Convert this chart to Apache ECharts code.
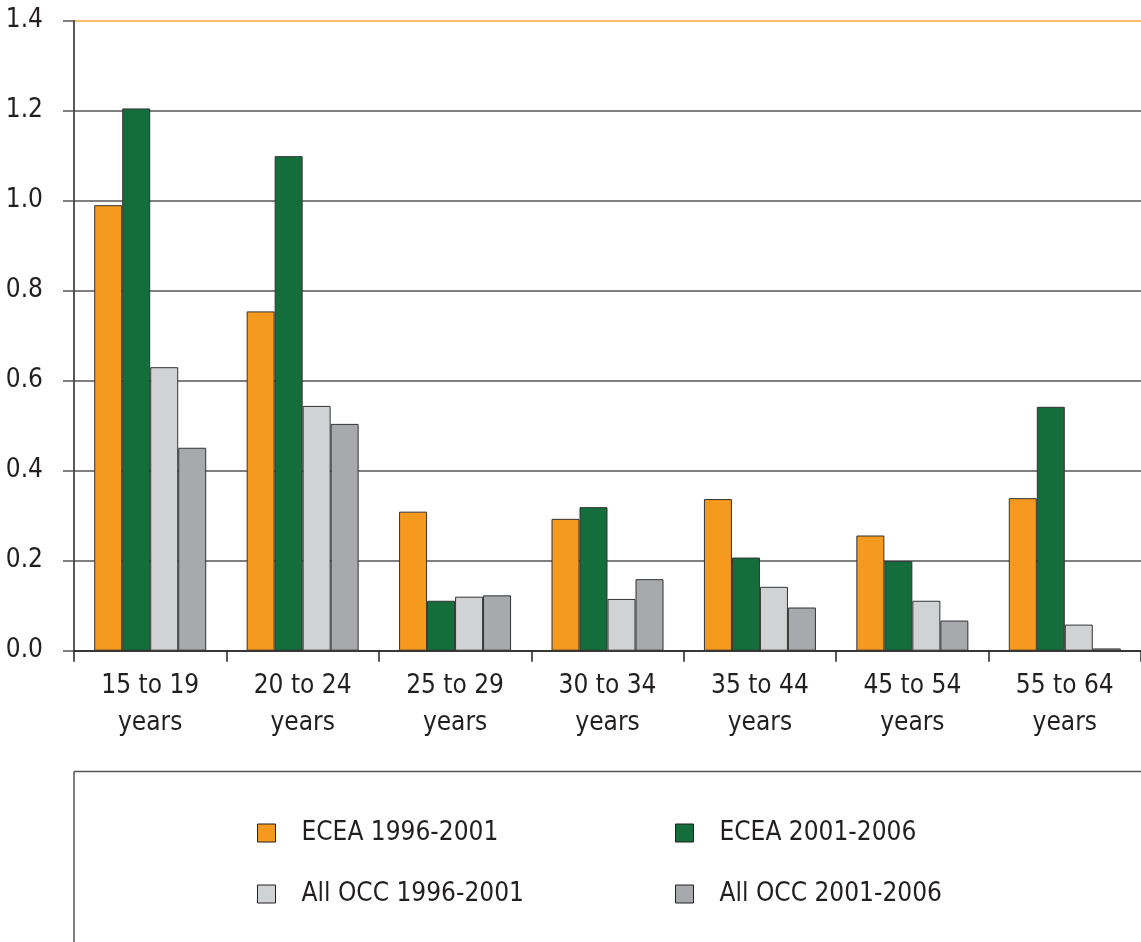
<!DOCTYPE html>
<html>
<head>
<meta charset="utf-8">
<script src="https://cdn.jsdelivr.net/npm/echarts@6/dist/echarts.min.js"></script>
<style>
html,body{margin:0;padding:0;background:#fff;}
#chart{width:1141px;height:942px;}
</style>
</head>
<body>
<div id="chart"></div>
<script>
var categories = ['15 to 19\nyears','20 to 24\nyears','25 to 29\nyears','30 to 34\nyears','35 to 44\nyears','45 to 54\nyears','55 to 64\nyears'];
var seriesNames = ['ECEA 1996-2001','ECEA 2001-2006','All OCC 1996-2001','All OCC 2001-2006'];
var ecea9601 = [0.990, 0.754, 0.309, 0.293, 0.337, 0.256, 0.339];
var ecea0106 = [1.205, 1.099, 0.111, 0.319, 0.207, 0.199, 0.542];
var occ9601  = [0.630, 0.544, 0.120, 0.115, 0.142, 0.111, 0.058];
var occ0106  = [0.451, 0.504, 0.123, 0.159, 0.096, 0.067, 0.005];
var yTicks = [0, 0.2, 0.4, 0.6, 0.8, 1.0, 1.2, 1.4];

var FONT = '"Liberation Sans Narrow","DejaVu Sans Condensed","Roboto Condensed",sans-serif';
var colors = ['#f6991f','#136e3c','#d1d2d4','#a7a9ac'];
var values = [ecea9601, ecea0106, occ9601, occ0106];

var chart = echarts.init(document.getElementById('chart'), null, {renderer:'canvas'});

function mkLegend(name, left, top){
  return {
    data:[name], left:left, top:top, orient:'horizontal', padding:0,
    itemWidth:18, itemHeight:18, icon:'rect',
    selectedMode:false,
    itemStyle:{borderColor:'#231f20', borderWidth:1},
    textStyle:{fontFamily:FONT, fontSize:26, color:'#231f20', padding:[0,0,0,21], lineHeight:30}
  };
}

var gridColors = yTicks.map(function(v,i){ return i === yTicks.length-1 ? '#f7a935' : '#555555'; });

chart.setOption({
  animation:false,
  backgroundColor:'#ffffff',
  grid:{left:74, top:20.7, width:1078, height:630, containLabel:false},
  legend:[
    mkLegend(seriesNames[0], 257, 818),
    mkLegend(seriesNames[1], 675, 818),
    mkLegend(seriesNames[2], 257, 879),
    mkLegend(seriesNames[3], 675, 879)
  ],
  xAxis:{
    type:'category', data:categories,
    axisLine:{show:true, lineStyle:{color:'#231f20', width:1.5}},
    axisTick:{show:true, length:11, lineStyle:{color:'#231f20', width:1.5}},
    axisLabel:{interval:0, margin:17, fontFamily:FONT, fontSize:26, lineHeight:37, color:'#231f20'},
    splitLine:{show:false}
  },
  yAxis:{
    type:'value', min:0, max:1.4, interval:0.2,
    axisLine:{show:true, lineStyle:{color:'#231f20', width:1.5}},
    axisTick:{show:true, length:11, lineStyle:{color:'#555555', width:1.5}},
    axisLabel:{margin:31, fontFamily:FONT, fontSize:26, color:'#231f20',
      formatter:function(v){ return v.toFixed(1); }},
    splitLine:{show:true, lineStyle:{color:gridColors, width:1.5}}
  },
  series: seriesNames.map(function(n, i){
    return {
      name:n, type:'bar', data:values[i],
      barWidth:28, barGap:'0%',
      itemStyle:{color:colors[i], borderColor:'#333333', borderWidth:1}
    };
  }),
  graphic:[
    {type:'line', shape:{x1:74, y1:771.5, x2:1141, y2:771.5}, style:{stroke:'#555555', lineWidth:1.5}},
    {type:'line', shape:{x1:74, y1:771.5, x2:74, y2:942}, style:{stroke:'#555555', lineWidth:1.5}}
  ]
});
</script>
</body>
</html>
